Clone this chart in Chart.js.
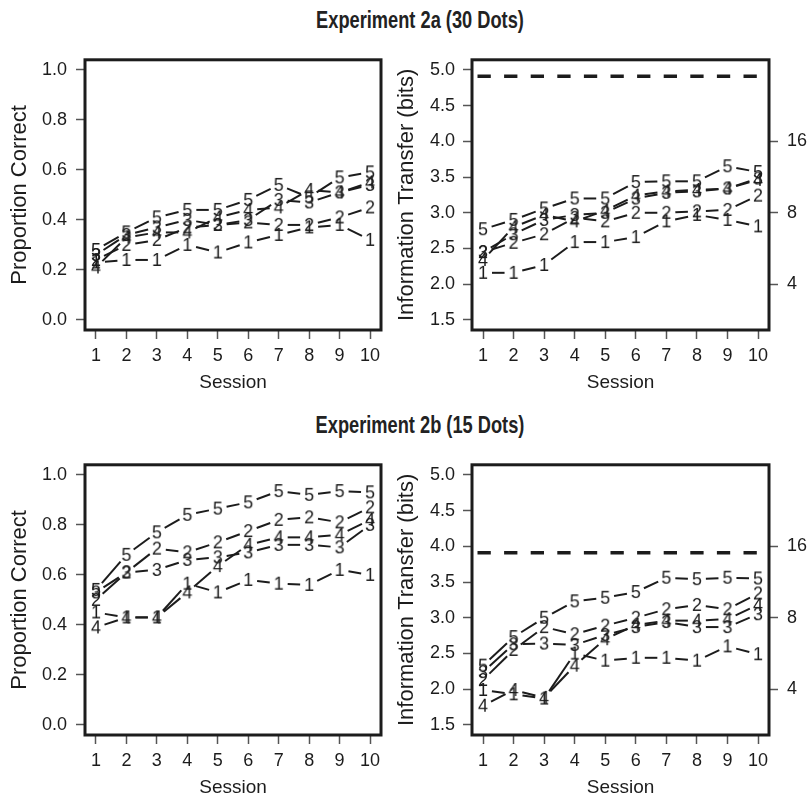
<!DOCTYPE html>
<html>
<head>
<meta charset="utf-8">
<script src="https://cdn.jsdelivr.net/npm/chart.js@4.4.1/dist/chart.umd.min.js"></script>
<style>
  body { margin: 0; background: #fff; }
  #wrap { position: relative; width: 809px; height: 799px; overflow: hidden; font-family: "Liberation Sans", Arial, sans-serif; }
  .title { position: absolute; left: 0; width: 840px; text-align: center; font-weight: bold; font-size: 24px; line-height: 30px; color: #222; transform: scaleX(0.76); transform-origin: 420px 0; }
  canvas { position: absolute; }
</style>
</head>
<body>
<div id="wrap">
  <div class="title" style="top:5px">Experiment 2a (30 Dots)</div>
  <div class="title" style="top:410px">Experiment 2b (15 Dots)</div>
  <canvas id="pc30" width="405" height="365" style="left:0;top:40px"></canvas>
  <canvas id="bits30" width="424" height="365" style="left:385px;top:40px"></canvas>
  <canvas id="pc15" width="405" height="365" style="left:0;top:445px"></canvas>
  <canvas id="bits15" width="424" height="365" style="left:385px;top:445px"></canvas>
</div>
<script>
const sessions = [1, 2, 3, 4, 5, 6, 7, 8, 9, 10];
const observers = ["1", "2", "3", "4", "5"];

// Experiment 2a (30 dots): proportion correct per observer
const pc30_1 = [0.23, 0.24, 0.24, 0.30, 0.27, 0.31, 0.34, 0.37, 0.38, 0.32];
const pc30_2 = [0.24, 0.30, 0.32, 0.37, 0.38, 0.39, 0.38, 0.38, 0.41, 0.45];
const pc30_3 = [0.26, 0.34, 0.37, 0.40, 0.38, 0.40, 0.48, 0.47, 0.51, 0.54];
const pc30_4 = [0.21, 0.33, 0.35, 0.35, 0.41, 0.44, 0.45, 0.52, 0.51, 0.55];
const pc30_5 = [0.28, 0.35, 0.41, 0.44, 0.44, 0.48, 0.54, 0.49, 0.57, 0.59];

// Experiment 2a (30 dots): information transfer in bits
const bits30_1 = [2.16, 2.16, 2.27, 2.59, 2.59, 2.66, 2.88, 2.97, 2.90, 2.81];
const bits30_2 = [2.45, 2.58, 2.70, 2.93, 2.88, 3.00, 3.00, 3.02, 3.04, 3.24];
const bits30_3 = [2.45, 2.70, 2.90, 2.97, 3.00, 3.20, 3.28, 3.30, 3.34, 3.48];
const bits30_4 = [2.34, 2.80, 2.97, 2.88, 3.03, 3.24, 3.30, 3.32, 3.34, 3.46];
const bits30_5 = [2.77, 2.90, 3.06, 3.20, 3.20, 3.43, 3.44, 3.44, 3.65, 3.57];

// Experiment 2b (15 dots): proportion correct per observer
const pc15_1 = [0.45, 0.43, 0.43, 0.565, 0.53, 0.58, 0.565, 0.56, 0.62, 0.60];
const pc15_2 = [0.50, 0.61, 0.705, 0.69, 0.73, 0.775, 0.82, 0.83, 0.81, 0.87];
const pc15_3 = [0.53, 0.61, 0.62, 0.66, 0.67, 0.69, 0.72, 0.72, 0.71, 0.80];
const pc15_4 = [0.39, 0.43, 0.43, 0.53, 0.635, 0.72, 0.75, 0.75, 0.76, 0.82];
const pc15_5 = [0.54, 0.68, 0.77, 0.84, 0.865, 0.89, 0.935, 0.92, 0.935, 0.93];

// Experiment 2b (15 dots): information transfer in bits
const bits15_1 = [1.99, 1.93, 1.87, 2.50, 2.40, 2.44, 2.44, 2.40, 2.60, 2.49];
const bits15_2 = [2.13, 2.55, 2.87, 2.77, 2.89, 3.00, 3.12, 3.18, 3.12, 3.34];
const bits15_3 = [2.24, 2.63, 2.64, 2.62, 2.76, 2.87, 2.94, 2.87, 2.87, 3.05];
const bits15_4 = [1.77, 1.99, 1.88, 2.33, 2.70, 2.90, 2.96, 2.96, 2.98, 3.18];
const bits15_5 = [2.33, 2.73, 3.00, 3.23, 3.28, 3.36, 3.56, 3.54, 3.56, 3.55];

// channel capacity (log2 of number of dots), drawn dashed
const capacity30 = 4.91;
const capacity15 = 3.91;
const capacityFrom = 0.82;
const capacityTo = 10;

const propTicks = [0, 0.2, 0.4, 0.6, 0.8, 1.0];
const bitsTicks = [1.5, 2.0, 2.5, 3.0, 3.5, 4.0, 4.5, 5.0];
const alternativeBits = [2, 3, 4];
const alternativeLabels = ["4", "8", "16"];

const ink = "#1c1c1c";
const GAP = 9;
const fontFamily = "'Liberation Sans', Arial, sans-serif";

// digit used as point symbol (like pch = "1".."5")
function digitImage(txt) {
    const c = document.createElement("canvas");
    c.width = 18;
    c.height = 24;
    const g = c.getContext("2d");
    g.font = "18px " + fontFamily;
    g.fillStyle = ink;
    g.textAlign = "center";
    g.textBaseline = "alphabetic";
    g.fillText(txt, 9, 12 + 6.4);
    return c;
}

// segments between points, stopped short of each symbol, plus the box frame
const gappedLines = {
    id: "gappedLines",
    beforeDatasetsDraw(chart) {
        const ctx = chart.ctx;
        ctx.save();
        ctx.strokeStyle = ink;
        ctx.lineWidth = 2;
        chart.data.datasets.forEach((ds, i) => {
            if (!ds.gapped) return;
            const pts = chart.getDatasetMeta(i).data;
            for (let k = 1; k < pts.length; k++) {
                const a = pts[k - 1], b = pts[k];
                const dx = b.x - a.x, dy = b.y - a.y;
                const len = Math.hypot(dx, dy);
                if (len <= 2 * GAP) continue;
                const ux = dx / len, uy = dy / len;
                ctx.beginPath();
                ctx.moveTo(a.x + ux * GAP, a.y + uy * GAP);
                ctx.lineTo(b.x - ux * GAP, b.y - uy * GAP);
                ctx.stroke();
            }
        });
        ctx.restore();
    },
    afterDraw(chart) {
        const { left, top, width, height } = chart.chartArea;
        const ctx = chart.ctx;
        ctx.save();
        ctx.strokeStyle = ink;
        ctx.lineWidth = 3;
        ctx.strokeRect(left, top, width, height);
        ctx.restore();
    },
};

function makePanel(id, opt) {
    const datasets = opt.series.map((vals, i) => ({
        label: observers[i],
        data: vals.map((v, k) => ({ x: sessions[k], y: v })),
        yAxisID: "y",
        showLine: false,
        gapped: true,
        pointStyle: digitImage(observers[i]),
        pointRadius: 4,
        pointHoverRadius: 4,
        clip: false,
    }));
    if (opt.capacity) {
        datasets.push({
            label: "capacity",
            data: [{ x: capacityFrom, y: opt.capacity }, { x: capacityTo, y: opt.capacity }],
            yAxisID: "y",
            showLine: true,
            borderColor: ink,
            borderWidth: 3.5,
            borderDash: [13.3, 13.3],
            pointRadius: 0,
            clip: false,
        });
    }

    const tickFont = { family: fontFamily, size: 18 };
    const scales = {
        x: {
            type: "linear",
            min: 0.64,
            max: 10.36,
            afterBuildTicks: (s) => { s.ticks = sessions.map((v) => ({ value: v })); },
            afterFit: (s) => { s.height = 75; },
            grid: { drawOnChartArea: false, tickLength: 9, tickColor: "#555", tickWidth: 1.5 },
            border: { display: false },
            ticks: { font: tickFont, color: ink, padding: 6, maxRotation: 0, autoSkip: false },
            title: { display: true, text: "Session", color: ink, font: { family: fontFamily, size: 19 }, padding: { top: 0, bottom: 11 } },
        },
        y: {
            type: "linear",
            position: "left",
            min: opt.yMin,
            max: opt.yMax,
            afterBuildTicks: (s) => { s.ticks = opt.yTicks.map((v) => ({ value: v })); },
            afterFit: (s) => { s.width = opt.leftWidth; },
            grid: { drawOnChartArea: false, tickLength: 9, tickColor: "#555", tickWidth: 1.5 },
            border: { display: false },
            ticks: { font: tickFont, color: ink, padding: opt.labelPad, callback: (v) => v.toFixed(1) },
            title: { display: true, text: opt.yTitle, color: ink, font: { family: fontFamily, size: 22 }, padding: { top: opt.titlePad, bottom: 0 } },
        },
    };
    if (opt.rightAxis) {
        scales.y2 = {
            type: "linear",
            position: "right",
            min: opt.yMin,
            max: opt.yMax,
            afterBuildTicks: (s) => { s.ticks = alternativeBits.map((v) => ({ value: v })); },
            afterFit: (s) => { s.width = 40; },
            grid: { drawOnChartArea: false, tickLength: 9, tickColor: "#555", tickWidth: 1.5 },
            border: { display: false },
            ticks: { font: tickFont, color: ink, padding: 9, callback: (v, i) => alternativeLabels[i] },
        };
    }

    return new Chart(document.getElementById(id), {
        type: "scatter",
        data: { datasets },
        options: {
            responsive: false,
            animation: false,
            devicePixelRatio: 1,
            events: [],
            layout: { padding: { top: opt.topPad, right: opt.rightPad, left: 0, bottom: 0 } },
            plugins: { legend: { display: false }, tooltip: { enabled: false } },
            scales,
        },
        plugins: [gappedLines],
    });
}

makePanel("pc30", {
    series: [pc30_1, pc30_2, pc30_3, pc30_4, pc30_5],
    yMin: -0.04, yMax: 1.04, yTicks: propTicks,
    yTitle: "Proportion Correct",
    leftWidth: 85, labelPad: 9, titlePad: 7, topPad: 9, rightPad: 24,
});

makePanel("bits30", {
    series: [bits30_1, bits30_2, bits30_3, bits30_4, bits30_5],
    yMin: 1.36, yMax: 5.14, yTicks: bitsTicks,
    yTitle: "Information Transfer (bits)",
    capacity: capacity30, rightAxis: true,
    leftWidth: 87, labelPad: 8, titlePad: 9, topPad: 9, rightPad: 0,
});

makePanel("pc15", {
    series: [pc15_1, pc15_2, pc15_3, pc15_4, pc15_5],
    yMin: -0.04, yMax: 1.04, yTicks: propTicks,
    yTitle: "Proportion Correct",
    leftWidth: 85, labelPad: 9, titlePad: 7, topPad: 9.5, rightPad: 24,
});

makePanel("bits15", {
    series: [bits15_1, bits15_2, bits15_3, bits15_4, bits15_5],
    yMin: 1.36, yMax: 5.14, yTicks: bitsTicks,
    yTitle: "Information Transfer (bits)",
    capacity: capacity15, rightAxis: true,
    leftWidth: 87, labelPad: 8, titlePad: 9, topPad: 9.5, rightPad: 0,
});
</script>
</body>
</html>
